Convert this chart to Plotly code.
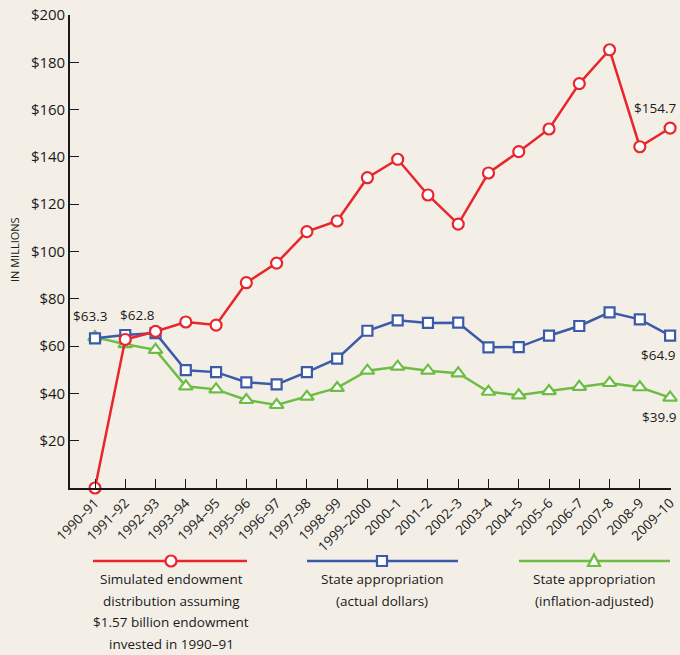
import plotly.graph_objects as go

years = ["1990–91", "1991–92", "1992–93", "1993–94", "1994–95", "1995–96", "1996–97",
         "1997–98", "1998–99", "1999–2000", "2000–1", "2001–2", "2002–3", "2003–4",
         "2004–5", "2005–6", "2006–7", "2007–8", "2008–9", "2009–10"]
endowment = [0, 62.8, 66.2, 70.2, 68.9, 86.8, 95.1, 108.4, 112.9, 131.2, 139.0, 123.9,
             111.6, 133.2, 142.2, 151.8, 171.0, 185.3, 144.3, 152.2]
actual = [63.3, 64.7, 65.5, 49.8, 49.0, 44.7, 43.8, 49.0, 54.7, 66.5, 70.9, 69.8, 69.9,
          59.5, 59.6, 64.4, 68.5, 74.3, 71.3, 64.4]
adjusted = [63.8, 60.8, 58.4, 43.0, 41.7, 37.2, 35.1, 38.6, 42.3, 49.6, 51.3, 49.6, 48.5,
            40.7, 39.2, 41.0, 42.8, 44.4, 42.6, 38.2]
y_ticks = [20, 40, 60, 80, 100, 120, 140, 160, 180, 200]
y_labels = ["$20", "$40", "$60", "$80", "$100", "$120", "$140", "$160", "$180", "$200"]
legend_lines = [
    ["Simulated endowment", "distribution assuming", "$1.57 billion endowment", "invested in 1990–91"],
    ["State appropriation", "(actual dollars)"],
    ["State appropriation", "(inflation-adjusted)"],
]

RED = "#e8262b"
BLUE = "#3b5aa8"
GREEN = "#6dbd45"
BG = "#f3efe7"
FONT = "Open Sans"
TXT = "#1a1a1a"

xs = list(range(len(years)))

fig = go.Figure()
fig.add_trace(go.Scatter(x=xs, y=adjusted, mode="lines+markers", cliponaxis=False,
                         line=dict(color=GREEN, width=2.5),
                         marker=dict(symbol="triangle-up", size=12, color="white",
                                     line=dict(color=GREEN, width=2.2))))
fig.add_trace(go.Scatter(x=xs, y=actual, mode="lines+markers", cliponaxis=False,
                         line=dict(color=BLUE, width=2.5),
                         marker=dict(symbol="square", size=10, color="white",
                                     line=dict(color=BLUE, width=2.2))))
fig.add_trace(go.Scatter(x=xs, y=endowment, mode="lines+markers", cliponaxis=False,
                         line=dict(color=RED, width=2.5),
                         marker=dict(symbol="circle", size=11, color="white",
                                     line=dict(color=RED, width=2.2))))

# value labels
lab_font = dict(family=FONT, size=13.5, color=TXT)
fig.add_annotation(x=0, y=actual[0], text="$63.3", showarrow=False, yshift=22, xshift=-5, font=lab_font)
fig.add_annotation(x=1, y=endowment[1], text="$62.8", showarrow=False, yshift=24, xshift=12, font=lab_font)
fig.add_annotation(x=19, y=endowment[19], text="$154.7", showarrow=False, yshift=20, xshift=-15, font=lab_font)
fig.add_annotation(x=19, y=actual[19], text="$64.9", showarrow=False, yshift=-19, xshift=-12, font=lab_font)
fig.add_annotation(x=19, y=adjusted[19], text="$39.9", showarrow=False, yshift=-19, xshift=-11, font=lab_font)

# pixel -> paper helpers (plot area: x 70..671, y 15..488)
L = 70.0
W = 601.0
B = 488.0
H = 473.0
def px(x):
    return (x - L) / W
def py(y):
    return (B - y) / H

# y-axis title
fig.add_annotation(xref="paper", yref="paper", x=px(15), y=py(250), text="IN MILLIONS",
                   textangle=-90, showarrow=False, xanchor="center", yanchor="middle",
                   font=dict(family=FONT, size=11, color=TXT))

# custom legend below the axis
items = [(RED, 93, 247, 171, "circle"), (BLUE, 307, 458, 382, "square"), (GREEN, 519, 670, 594, "triangle")]
ly = 561
for (col, x0, x1, xm, sym), lines in zip(items, legend_lines):
    fig.add_shape(type="line", xref="paper", yref="paper", x0=px(x0), x1=px(x1),
                  y0=py(ly), y1=py(ly), line=dict(color=col, width=2.5))
    if sym == "circle":
        fig.add_shape(type="circle", xref="paper", yref="paper", x0=px(xm - 5.5), x1=px(xm + 5.5),
                      y0=py(ly + 5.5), y1=py(ly - 5.5), fillcolor="white", line=dict(color=col, width=2.2))
    elif sym == "square":
        fig.add_shape(type="rect", xref="paper", yref="paper", x0=px(xm - 5), x1=px(xm + 5),
                      y0=py(ly + 5), y1=py(ly - 5), fillcolor="white", line=dict(color=col, width=2.2))
    else:
        path = "M %f,%f L %f,%f L %f,%f Z" % (px(xm - 6), py(ly + 5), px(xm + 6), py(ly + 5), px(xm), py(ly - 6.5))
        fig.add_shape(type="path", xref="paper", yref="paper", path=path, fillcolor="white",
                      line=dict(color=col, width=2.2))
    for i, t in enumerate(lines):
        fig.add_annotation(xref="paper", yref="paper", x=px(xm), y=py(579 + 21.6 * i), text=t,
                           showarrow=False, font=dict(family=FONT, size=13.5, color=TXT),
                           xanchor="center", yanchor="middle")

fig.update_layout(
    template="none",
    width=680, height=655,
    margin=dict(l=70, r=9, t=15, b=167, autoexpand=False),
    paper_bgcolor=BG, plot_bgcolor=BG,
    showlegend=False,
    font=dict(family=FONT, color=TXT),
)
fig.update_xaxes(range=[-0.826, 19.03], tickvals=xs, ticktext=years, tickangle=-45,
                 ticks="inside", ticklen=9, tickcolor=TXT, tickwidth=1.3, automargin=False,
                 showline=True, linecolor=TXT, linewidth=1.6, showgrid=False, zeroline=False,
                 tickfont=dict(family=FONT, size=13.5, color=TXT))
fig.update_yaxes(range=[0, 200], tickvals=y_ticks, ticktext=y_labels, automargin=False,
                 ticks="inside", ticklen=9, tickcolor=TXT, tickwidth=1.3,
                 showline=True, linecolor=TXT, linewidth=1.6, showgrid=False, zeroline=False,
                 tickfont=dict(family=FONT, size=15, color=TXT))

fig.write_html("out.html", config={"displayModeBar": False},
               post_script="document.body.style.margin='0';document.body.style.overflow='hidden';")
